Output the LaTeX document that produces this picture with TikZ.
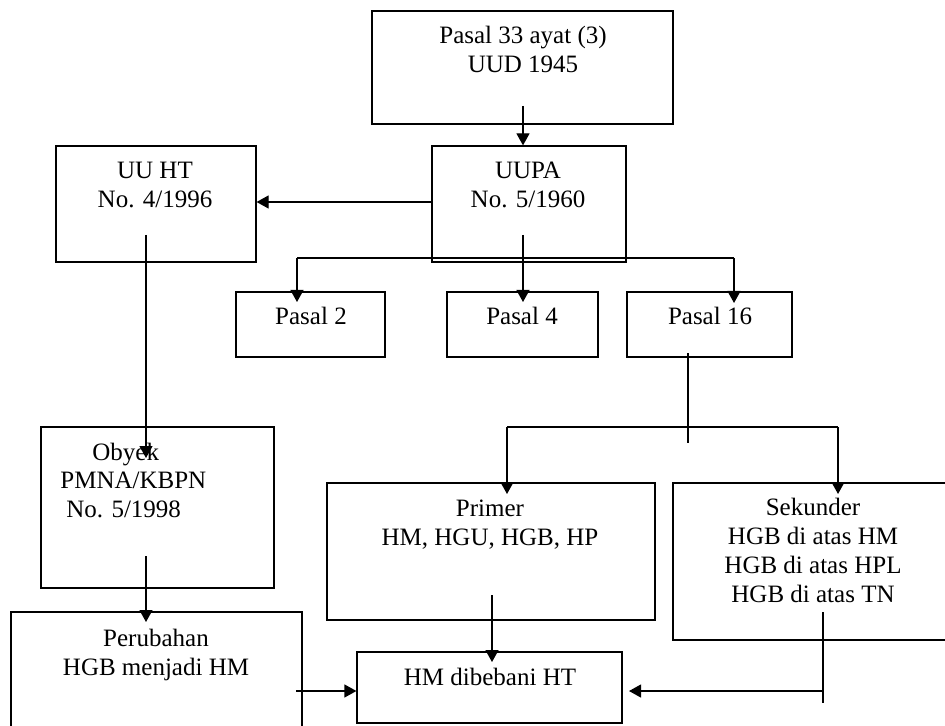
\documentclass[tikz,border=0pt]{standalone}
\usepackage{fontspec}
\setmainfont{Liberation Serif}
\usetikzlibrary{arrows.meta,fit}
\begin{document}
\begin{tikzpicture}[x=0.5pt,y=-0.5pt,
  box/.style={draw, line width=0.6pt, inner sep=0pt},
  txt/.style={inner sep=0pt, align=center, font=\fontsize{12.5}{14.5}\selectfont, anchor=base},
  ltxt/.style={inner sep=0pt, font=\fontsize{12.5}{14.5}\selectfont, anchor=base west},
  conn/.style={line width=0.6pt},
  arr/.style={line width=0.6pt, -{Triangle[length=6pt,width=6.5pt]}}]
\useasboundingbox (0,0) rectangle (945,726);

% boxes
\node[box, fit={(372,11) (673,124)}] (uud) {};
\node[box, fit={(432,146) (626,262)}] (uupa) {};
\node[box, fit={(56,146) (256,262)}] (uuht) {};
\node[box, fit={(236,292) (385,357)}] (p2) {};
\node[box, fit={(447,292) (598,357)}] (p4) {};
\node[box, fit={(627,292) (792,357)}] (p16) {};
\node[box, fit={(41,427) (274,588)}] (oby) {};
\node[box, fit={(327,483) (655,620)}] (prim) {};
\node[box, fit={(673,483) (960,640)}] (sek) {};
\node[box, fit={(11,612) (302,740)}] (perub) {};
\node[box, fit={(357,652) (622,723)}] (hm) {};

% texts (anchor base = baseline of the last line)
\node[txt] (uudt) at (523,73) {Pasal 33 ayat (3)\\UUD 1945};
\node[txt] (uupat) at (528,208) {UUPA\\No. 5/1960};
\node[txt] (uuhtt) at (155,208) {UU HT\\No. 4/1996};
\node[txt] (p2t) at (311,325) {Pasal 2};
\node[txt] (p4t) at (522,325) {Pasal 4};
\node[txt] (p16t) at (710,325) {Pasal 16};
\node[ltxt] (obyt1) at (92,460) {Obyek};
\node[ltxt] (obyt2) at (60,488) {PMNA/KBPN};
\node[ltxt] (obyt3) at (66,517) {No. 5/1998};
\node[txt] (primt) at (490,545) {Primer\\HM, HGU, HGB, HP};
\node[txt] (sekt) at (813,602) {Sekunder\\HGB di atas HM\\HGB di atas HPL\\HGB di atas TN};
\node[txt] (perubt) at (156,675) {Perubahan\\HGB menjadi HM};
\node[txt] (hmt) at (490,685) {HM dibebani HT};

% connector points
\coordinate (c1) at (523,106);
\coordinate (c2) at (523,235);
\coordinate (c3) at (523,302);
\coordinate (b1) at (297,258);
\coordinate (b2) at (734,258);
\coordinate (b1e) at (297,302);
\coordinate (b2e) at (734,303);
\coordinate (d1) at (146,235);
\coordinate (d2) at (146,458);
\coordinate (e1) at (146,556);
\coordinate (e2) at (146,622);
\coordinate (f1) at (296,691);
\coordinate (g1) at (688,353);
\coordinate (g2) at (688,443);
\coordinate (h1) at (507,427);
\coordinate (h2) at (838,427);
\coordinate (h1e) at (507,494);
\coordinate (h2e) at (838,494);
\coordinate (i1) at (492,595);
\coordinate (i2) at (492,662);
\coordinate (j1) at (823,612);
\coordinate (j2) at (823,703);
\coordinate (j3) at (823,691);
\coordinate (j4) at (629,691);

% connectors
\draw[arr] (c1) -- (c1 |- uupa.north);
\draw[arr] (uupa.west |- 0,202) -- (uuht.east |- 0,202);
\draw[arr] (c2) -- (c3);
\draw[conn] (b1) -- (b2);
\draw[arr] (b1) -- (b1e);
\draw[arr] (b2) -- (b2e);
\draw[arr] (d1) -- (d2);
\draw[arr] (e1) -- (e2);
\draw[arr] (f1) -- (f1 -| hm.west);
\draw[conn] (g1) -- (g2);
\draw[conn] (h1) -- (h2);
\draw[arr] (h1) -- (h1e);
\draw[arr] (h2) -- (h2e);
\draw[arr] (i1) -- (i2);
\draw[conn] (j1) -- (j2);
\draw[arr] (j3) -- (j4);
\end{tikzpicture}
\end{document}
